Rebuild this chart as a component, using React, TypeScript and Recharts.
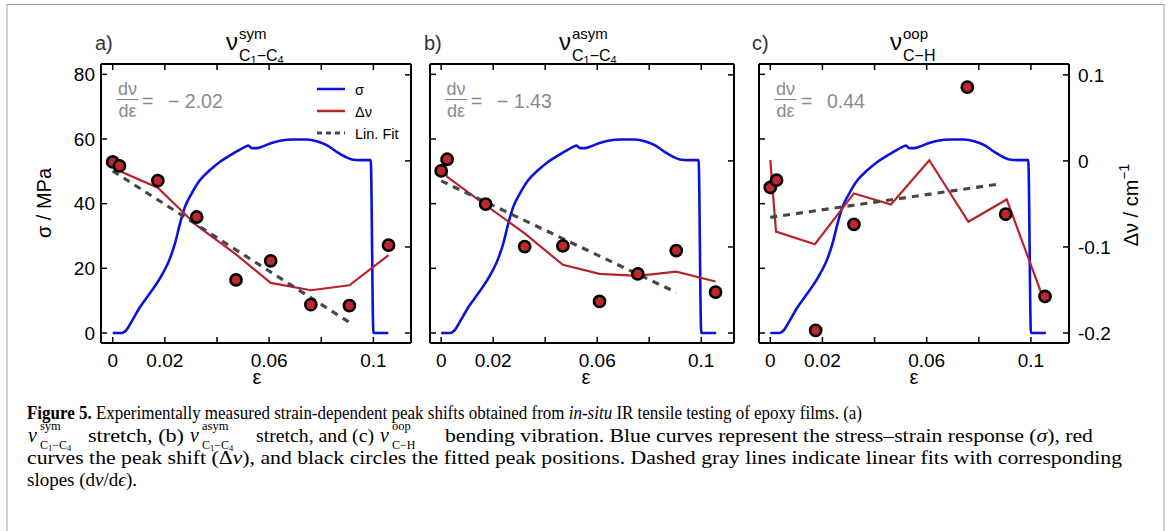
import React from 'react';
import { ComposedChart, Line, Scatter, XAxis, YAxis, Legend } from 'recharts';

const SANS = '"Liberation Sans", Arial, Helvetica, sans-serif';
const SERIF = '"Liberation Serif", "Times New Roman", serif';

const BLUE = '#0a12dc';
const RED = '#b82329';
const FIT = '#474747';
const GRAY = '#8a8a8a';

// axis ticks
const strainTicks = [0, 0.02, 0.04, 0.06, 0.08, 0.1];
const strainTickLabels = ['0', '0.02', '', '0.06', '', '0.1'];
const stressTicks = [0, 20, 40, 60, 80];
const stressTickLabels = ['0', '20', '40', '60', '80'];
const shiftTicks = [-0.2, -0.1, 0, 0.1];
const shiftTickLabels = ['-0.2', '-0.1', '0', '0.1'];

// stress-strain curve (same specimen in all panels)
const sigmaStrain = [0, 0.00345, 0.00537, 0.00729, 0.01049, 0.01432, 0.01816, 0.022, 0.02391, 0.02583, 0.02775, 0.03031, 0.0335, 0.03734, 0.04118, 0.04629, 0.05077, 0.05205, 0.05332, 0.05524, 0.05716, 0.06036, 0.0642, 0.06931, 0.07442, 0.07826, 0.0821, 0.08593, 0.08913, 0.09169, 0.09488, 0.09898, 0.1, 0.10575];
const sigmaValues = [0, 0, 1.03, 3.6, 8.02, 12.34, 16.97, 23.14, 27.76, 33.93, 39.07, 43.19, 47.3, 50.39, 52.96, 55.53, 57.58, 57.99, 57.17, 57.17, 57.58, 58.61, 59.43, 59.85, 59.85, 59.33, 58.1, 56.04, 54.5, 53.68, 53.47, 53.47, 0, 0];

// panel a
const aPointStrain = [0, 0.0026, 0.0173, 0.0322, 0.0473, 0.0606, 0.076, 0.0908, 0.1058];
const aPointShift = [-0.0012, -0.0058, -0.0229, -0.0652, -0.1383, -0.1161, -0.167, -0.1682, -0.0979];
const aCurveStrain = [0, 0.0026, 0.0173, 0.0322, 0.0473, 0.0606, 0.076, 0.0908, 0.1058];
const aCurveShift = [-0.004, -0.0117, -0.0311, -0.075, -0.1087, -0.1417, -0.1503, -0.1445, -0.1095];
const aFitStrain = [0, 0.0908];
const aFitShift = [-0.0117, -0.1876];

// panel b
const bPointStrain = [0, 0.0023, 0.0171, 0.0321, 0.0468, 0.0609, 0.0756, 0.0904, 0.1055];
const bPointShift = [-0.0116, 0.0019, -0.0502, -0.0996, -0.0988, -0.1633, -0.1313, -0.1042, -0.1525];
const bCurveStrain = [0, 0.0023, 0.0171, 0.0321, 0.0468, 0.0609, 0.0756, 0.0904, 0.1055];
const bCurveShift = [0.0008, -0.0185, -0.0514, -0.0842, -0.1208, -0.1313, -0.1336, -0.1286, -0.1402];
const bFitStrain = [0, 0.0904];
const bFitShift = [-0.0232, -0.1529];

// panel c
const cPointStrain = [0, 0.0024, 0.0174, 0.0321, 0.0756, 0.0903, 0.1054];
const cPointShift = [-0.0309, -0.0224, -0.1969, -0.0737, 0.0857, -0.0618, -0.1575];
const cCurveStrain = [0, 0.0022, 0.0171, 0.0321, 0.0463, 0.061, 0.076, 0.0907, 0.1054];
const cCurveShift = [0.0008, -0.0822, -0.0969, -0.0378, -0.0506, 0.0008, -0.0707, -0.0448, -0.1653];
const cFitStrain = [0, 0.0875];
const cFitShift = [-0.0656, -0.027];

const legendItems = [
  { label: 'σ', color: BLUE, dash: '' },
  { label: 'Δν', color: RED, dash: '' },
  { label: 'Lin. Fit', color: FIT, dash: '5 4' },
];

const toPts = (xs: number[], ys: number[]) => xs.map((x, i) => ({ x, y: ys[i] }));
const sigmaData = toPts(sigmaStrain, sigmaValues);

const BOX_TOP = 64;
const BOX_H = 279;
const TOP_AX = 20;
const BOT_AX = 40;
const LW = 60;
const RW = 60;
const STRESS_DOMAIN: [number, number] = [-3.1, 83.2];
const SHIFT_DOMAIN: [number, number] = [-0.2116, 0.1126];

const axisLine = { stroke: '#000', strokeWidth: 2 };
const tickLine = { stroke: '#000', strokeWidth: 1.5 };

const LegendContent = () => (
  <svg width={120} height={62} style={{ display: 'block' }}>
    {legendItems.map((it, i) => {
      const y = 10 + i * 22;
      return (
        <g key={it.label}>
          <line x1={0} x2={28} y1={y} y2={y} stroke={it.color} strokeWidth={it.dash ? 3 : 2.5} strokeDasharray={it.dash || undefined} />
          <text x={38} y={y + 5.5} fontSize={14.5} fontFamily={SANS} fill="#000">{it.label}</text>
        </g>
      );
    })}
  </svg>
);

const Dot = (props: any) => (
  <circle cx={props.cx} cy={props.cy} r={5.6} fill="#c0272d" stroke="#000" strokeWidth={2.6} />
);

type PanelProps = {
  left: number;
  width: number;
  xDomain: [number, number];
  pts: { x: number; y: number }[];
  curve: { x: number; y: number }[];
  fit: { x: number; y: number }[];
  showLeft: boolean;
  showRight: boolean;
  legend: boolean;
};

function Panel({ left, width, xDomain, pts, curve, fit, showLeft, showRight, legend }: PanelProps) {
  const chartW = LW + width + RW;
  return (
    <div style={{ position: 'absolute', left: left - LW, top: BOX_TOP - TOP_AX }}>
      <ComposedChart width={chartW} height={TOP_AX + BOX_H + BOT_AX} margin={{ top: 0, right: 0, bottom: 0, left: 0 }}>
        <XAxis xAxisId="b" type="number" dataKey="x" domain={xDomain} allowDataOverflow ticks={strainTicks} interval={0}
          tickFormatter={(v: number, i: number) => strainTickLabels[i]} height={BOT_AX} tickSize={-6} tickMargin={17}
          axisLine={axisLine} tickLine={tickLine} tick={{ fill: '#000', fontSize: 19, fontFamily: SANS }} />
        <XAxis xAxisId="t" orientation="top" type="number" dataKey="x" domain={xDomain} allowDataOverflow ticks={strainTicks} interval={0}
          tickFormatter={() => ''} height={TOP_AX} tickSize={-6} tickMargin={4}
          axisLine={axisLine} tickLine={tickLine} tick={{ fill: '#000', fontSize: 10 }} />
        <YAxis yAxisId="s" type="number" dataKey="y" domain={STRESS_DOMAIN} allowDataOverflow ticks={stressTicks} interval={0}
          tickFormatter={(v: number, i: number) => (showLeft ? stressTickLabels[i] : '')} width={LW} tickSize={-6} tickMargin={12}
          axisLine={axisLine} tickLine={tickLine} tick={{ fill: '#000', fontSize: 19, fontFamily: SANS }} />
        <YAxis yAxisId="d" orientation="right" type="number" dataKey="y" domain={SHIFT_DOMAIN} allowDataOverflow ticks={shiftTicks} interval={0}
          tickFormatter={(v: number, i: number) => (showRight ? shiftTickLabels[i] : '')} width={RW} tickSize={-6} tickMargin={15}
          axisLine={axisLine} tickLine={tickLine} tick={{ fill: '#000', fontSize: 19, fontFamily: SANS }} />
        <Line xAxisId="b" yAxisId="s" data={sigmaData} dataKey="y" type="monotone" stroke={BLUE} strokeWidth={2.6}
          dot={false} activeDot={false} isAnimationActive={false} />
        <Line xAxisId="b" yAxisId="d" data={curve} dataKey="y" type="linear" stroke={RED} strokeWidth={2.2}
          dot={false} activeDot={false} isAnimationActive={false} />
        <Line xAxisId="b" yAxisId="d" data={fit} dataKey="y" type="linear" stroke={FIT} strokeWidth={3.2} strokeDasharray="7 6"
          dot={false} activeDot={false} isAnimationActive={false} />
        <Scatter xAxisId="b" yAxisId="d" data={pts} shape={Dot} isAnimationActive={false} />
        {legend && (
          <Legend layout="vertical" align="center" verticalAlign="middle" content={LegendContent}
            wrapperStyle={{ left: 276, top: 35, width: 120, height: 62 }} />
        )}
      </ComposedChart>
    </div>
  );
}

const Title = ({ x, sup, sub }: { x: number; sup: string; sub: React.ReactNode }) => (
  <g fontFamily={SANS} fill="#000">
    <text x={x} y={50} fontSize={24}>ν</text>
    <text x={x + 13} y={39} fontSize={15}>{sup}</text>
    <text x={x + 13} y={61} fontSize={16}>{sub}</text>
  </g>
);

const CC = (
  <>C<tspan fontSize={11} dy={3}>1</tspan><tspan dy={-3}>−C</tspan><tspan fontSize={11} dy={3}>4</tspan></>
);

const Slope = ({ cx, x, eq, value }: { cx: number; x: number; eq: string; value: string }) => (
  <g fontFamily={SANS} fill={GRAY}>
    <text x={cx} y={95} fontSize={18} textAnchor="middle">dν</text>
    <line x1={cx - 11} x2={cx + 11} y1={99.5} y2={99.5} stroke={GRAY} strokeWidth={1.2} />
    <text x={cx} y={117} fontSize={18} textAnchor="middle">dε</text>
    <text x={x} y={108} fontSize={19.5}>{eq}</text>
    <text x={x + 26} y={108} fontSize={19.5}>{value}</text>
  </g>
);

const CapSym = ({ x, sup, sub }: { x: number; sup: string; sub: React.ReactNode }) => (
  <g fontFamily={SERIF} fill="#000">
    <text x={x} y={442} fontSize={20} fontStyle="italic">ν</text>
    <text x={x + 12} y={430} fontSize={12.5}>{sup}</text>
    <text x={x + 12} y={449} fontSize={12}>{sub}</text>
  </g>
);

const CapCC = (
  <>C<tspan fontSize={8.5} dy={2}>1</tspan><tspan dy={-2}>−C</tspan><tspan fontSize={8.5} dy={2}>4</tspan></>
);

export default function App() {
  return (
    <div style={{ position: 'absolute', left: 0, top: 0, width: 1170, height: 531, background: '#fff', overflow: 'hidden', fontFamily: SANS }}>
      <div style={{ position: 'absolute', left: 6, top: 4, width: 1155, height: 560, borderTop: '1px solid #9a9a9a', borderLeft: '2px solid #cfcfcf', borderRight: '2px solid #cfcfcf' }} />
      <Panel left={101} width={310} xDomain={[-0.00449, 0.11442]} pts={toPts(aPointStrain, aPointShift)}
        curve={toPts(aCurveStrain, aCurveShift)} fit={toPts(aFitStrain, aFitShift)} showLeft showRight={false} legend />
      <Panel left={430} width={304} xDomain={[-0.0043, 0.1126]} pts={toPts(bPointStrain, bPointShift)}
        curve={toPts(bCurveStrain, bCurveShift)} fit={toPts(bFitStrain, bFitShift)} showLeft={false} showRight={false} legend={false} />
      <Panel left={759} width={310} xDomain={[-0.00433, 0.1146]} pts={toPts(cPointStrain, cPointShift)}
        curve={toPts(cCurveStrain, cCurveShift)} fit={toPts(cFitStrain, cFitShift)} showLeft={false} showRight legend={false} />
      <svg width={1170} height={531} style={{ position: 'absolute', left: 0, top: 0, pointerEvents: 'none' }}>
        <g fontFamily={SANS} fill="#333" fontSize={20}>
          <text x={95} y={50}>a)</text>
          <text x={424} y={50}>b)</text>
          <text x={752} y={50}>c)</text>
        </g>
        <Title x={226} sup="sym" sub={CC} />
        <Title x={559} sup="asym" sub={CC} />
        <Title x={890} sup="oop" sub="C−H" />
        <Slope cx={127.5} x={142} eq="=" value="− 2.02" />
        <Slope cx={456} x={471} eq="=" value="− 1.43" />
        <Slope cx={785.5} x={801} eq="=" value="0.44" />
        <g fontFamily={SANS} fill="#000" fontSize={20}>
          <text x={257} y={384} textAnchor="middle">ε</text>
          <text x={586} y={384} textAnchor="middle">ε</text>
          <text x={914} y={384} textAnchor="middle">ε</text>
          <text transform="translate(51,203) rotate(-90)" textAnchor="middle">σ / MPa</text>
          <text transform="translate(1138,205) rotate(-90)" textAnchor="middle">Δν / cm<tspan fontSize={14} dy={-9}>−1</tspan></text>
        </g>
        <g fontFamily={SERIF} fill="#000" fontSize={19}>
          <text x={27} y={419} textLength={835} lengthAdjust="spacingAndGlyphs">
            <tspan fontWeight="bold">Figure 5.</tspan> Experimentally measured strain-dependent peak shifts obtained from <tspan fontStyle="italic">in-situ</tspan> IR tensile testing of epoxy films. (a)
          </text>
          <text x={88} y={442} textLength={96} lengthAdjust="spacingAndGlyphs">stretch, (b)</text>
          <text x={256} y={442} textLength={118} lengthAdjust="spacingAndGlyphs">stretch, and (c)</text>
          <text x={445} y={442} textLength={648} lengthAdjust="spacingAndGlyphs">
            bending vibration. Blue curves represent the stress–strain response (<tspan fontStyle="italic">σ</tspan>), red
          </text>
          <text x={27} y={464} textLength={1095} lengthAdjust="spacingAndGlyphs">
            curves the peak shift (Δ<tspan fontStyle="italic">ν</tspan>), and black circles the fitted peak positions. Dashed gray lines indicate linear fits with corresponding
          </text>
          <text x={27} y={486}>
            slopes (d<tspan fontStyle="italic">ν</tspan>/d<tspan fontStyle="italic">ϵ</tspan>).
          </text>
        </g>
        <CapSym x={28} sup="sym" sub={CapCC} />
        <CapSym x={190} sup="asym" sub={CapCC} />
        <CapSym x={380} sup="oop" sub="C−H" />
      </svg>
    </div>
  );
}
